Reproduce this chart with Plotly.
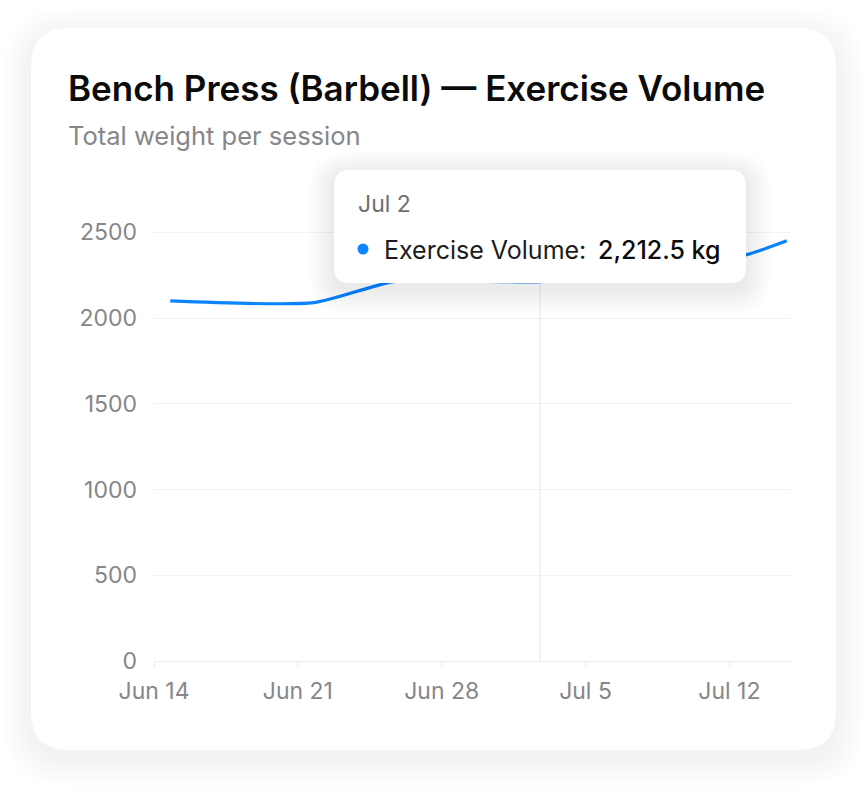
import plotly.graph_objects as go

# ---- data ----
session_dates = ["2025-06-14 19:00", "2025-06-21 19:00", "2025-06-25 19:00",
                 "2025-07-02 19:00", "2025-07-07 19:00", "2025-07-12 19:00",
                 "2025-07-14 19:00"]
volumes = [2100, 2090, 2215, 2212.5, 2285, 2368, 2450]
y_ticks = [0, 500, 1000, 1500, 2000, 2500]
x_tick_dates = ["2025-06-14", "2025-06-21", "2025-06-28", "2025-07-05", "2025-07-12"]
x_tick_labels = ["Jun 14", "Jun 21", "Jun 28", "Jul 5", "Jul 12"]
hover_index = 3

title = "Bench Press (Barbell) — Exercise Volume"
subtitle = "Total weight per session"
series_name = "Exercise Volume"
tooltip_date = "Jul 2"

W, H = 868, 792
L, R, T, B = 154, 77, 198, 131
PW, PH = W - L - R, H - T - B
FONT = "Inter, Roboto, sans-serif"
BLUE = "#0a84ff"


def px(x):
    return (x - L) / PW


def py(y):
    return (H - B - y) / PH


def rrect(x0, y0, x1, y1, r):
    X0, X1 = px(x0), px(x1)
    Y0, Y1 = py(y0), py(y1)
    rx, ry = r / PW, r / PH
    return (f"M {X0+rx},{Y0} L {X1-rx},{Y0} Q {X1},{Y0} {X1},{Y0-ry} "
            f"L {X1},{Y1+ry} Q {X1},{Y1} {X1-rx},{Y1} L {X0+rx},{Y1} "
            f"Q {X0},{Y1} {X0},{Y1+ry} L {X0},{Y0-ry} Q {X0},{Y0} {X0+rx},{Y0} Z")


shapes = []
# card shadow
for i in range(12, 0, -1):
    e = i * 2.5
    shapes.append(dict(type="path", xref="paper", yref="paper", layer="below",
                       path=rrect(31 - e, 28 - e + 8, 836 + e, 750 + e + 8, 38 + e),
                       fillcolor="rgba(0,0,0,0.0045)", line=dict(width=0)))
shapes.append(dict(type="path", xref="paper", yref="paper", layer="below",
                   path=rrect(31, 28, 836, 750, 38),
                   fillcolor="white", line=dict(width=0)))
# crosshair
shapes.append(dict(type="line", xref="x", yref="paper", layer="below",
                   x0=session_dates[hover_index], x1=session_dates[hover_index],
                   y0=0, y1=1, line=dict(color="#e6e6e9", width=1)))
# tooltip shadow + box
for i in range(10, 0, -1):
    e = i * 2.5
    shapes.append(dict(type="path", xref="paper", yref="paper", layer="above",
                       path=rrect(334 - e, 170 - e + 6, 746 + e, 283 + e + 6, 16 + e),
                       fillcolor="rgba(0,0,0,0.009)", line=dict(width=0)))
shapes.append(dict(type="path", xref="paper", yref="paper", layer="above",
                   path=rrect(334, 170, 746, 283, 16),
                   fillcolor="white", line=dict(width=0)))
shapes.append(dict(type="circle", xref="paper", yref="paper", layer="above",
                   x0=px(357.5), x1=px(368.5), y0=py(243.5), y1=py(254.5),
                   fillcolor=BLUE, line=dict(width=0)))

annotations = [
    dict(text=title, x=px(66), y=py(88), xref="paper", yref="paper",
         xanchor="left", yanchor="middle", showarrow=False,
         font=dict(family=FONT, size=35, color="#0b0b0c", weight=600)),
    dict(text=subtitle, x=px(66), y=py(135), xref="paper", yref="paper",
         xanchor="left", yanchor="middle", showarrow=False,
         font=dict(family=FONT, size=25.5, color="#86868b")),
    dict(text=tooltip_date, x=px(356), y=py(204), xref="paper", yref="paper",
         xanchor="left", yanchor="middle", showarrow=False,
         font=dict(family=FONT, size=23, color="#6e6e73")),
    dict(text=f"{series_name}:", x=px(382), y=py(250), xref="paper", yref="paper",
         xanchor="left", yanchor="middle", showarrow=False,
         font=dict(family=FONT, size=25, color="#1c1c1e")),
    dict(text=f"{volumes[hover_index]:,.1f} kg", x=px(596), y=py(250), xref="paper", yref="paper",
         xanchor="left", yanchor="middle", showarrow=False,
         font=dict(family=FONT, size=25, color="#0b0b0c", weight=500)),
]

fig = go.Figure(go.Scatter(
    x=session_dates, y=volumes, mode="lines", name=series_name,
    line=dict(color=BLUE, width=3.2, shape="spline", smoothing=0.6),
    hoverinfo="skip"))

fig.update_layout(
    width=W, height=H, margin=dict(l=L, r=R, t=T, b=B),
    paper_bgcolor="white", plot_bgcolor="rgba(0,0,0,0)",
    showlegend=False, hovermode=False,
    shapes=shapes, annotations=annotations,
    font=dict(family=FONT),
    xaxis=dict(type="date", range=["2025-06-14", "2025-07-15"],
               tickvals=x_tick_dates, ticktext=x_tick_labels,
               showgrid=False, zeroline=False,
               showline=True, linecolor="#ececee", linewidth=1,
               ticks="outside", ticklen=6, tickcolor="#ececee",
               ticklabelstandoff=3,
               tickfont=dict(family=FONT, size=23, color="#86868b")),
    yaxis=dict(range=[0, 2700], tickvals=y_ticks,
               showgrid=True, gridcolor="#f1f1f3", gridwidth=1,
               zeroline=False, showline=False, ticks="",
               ticklabelstandoff=16,
               tickfont=dict(family=FONT, size=23, color="#86868b")),
)

fig.write_html("out.html")
